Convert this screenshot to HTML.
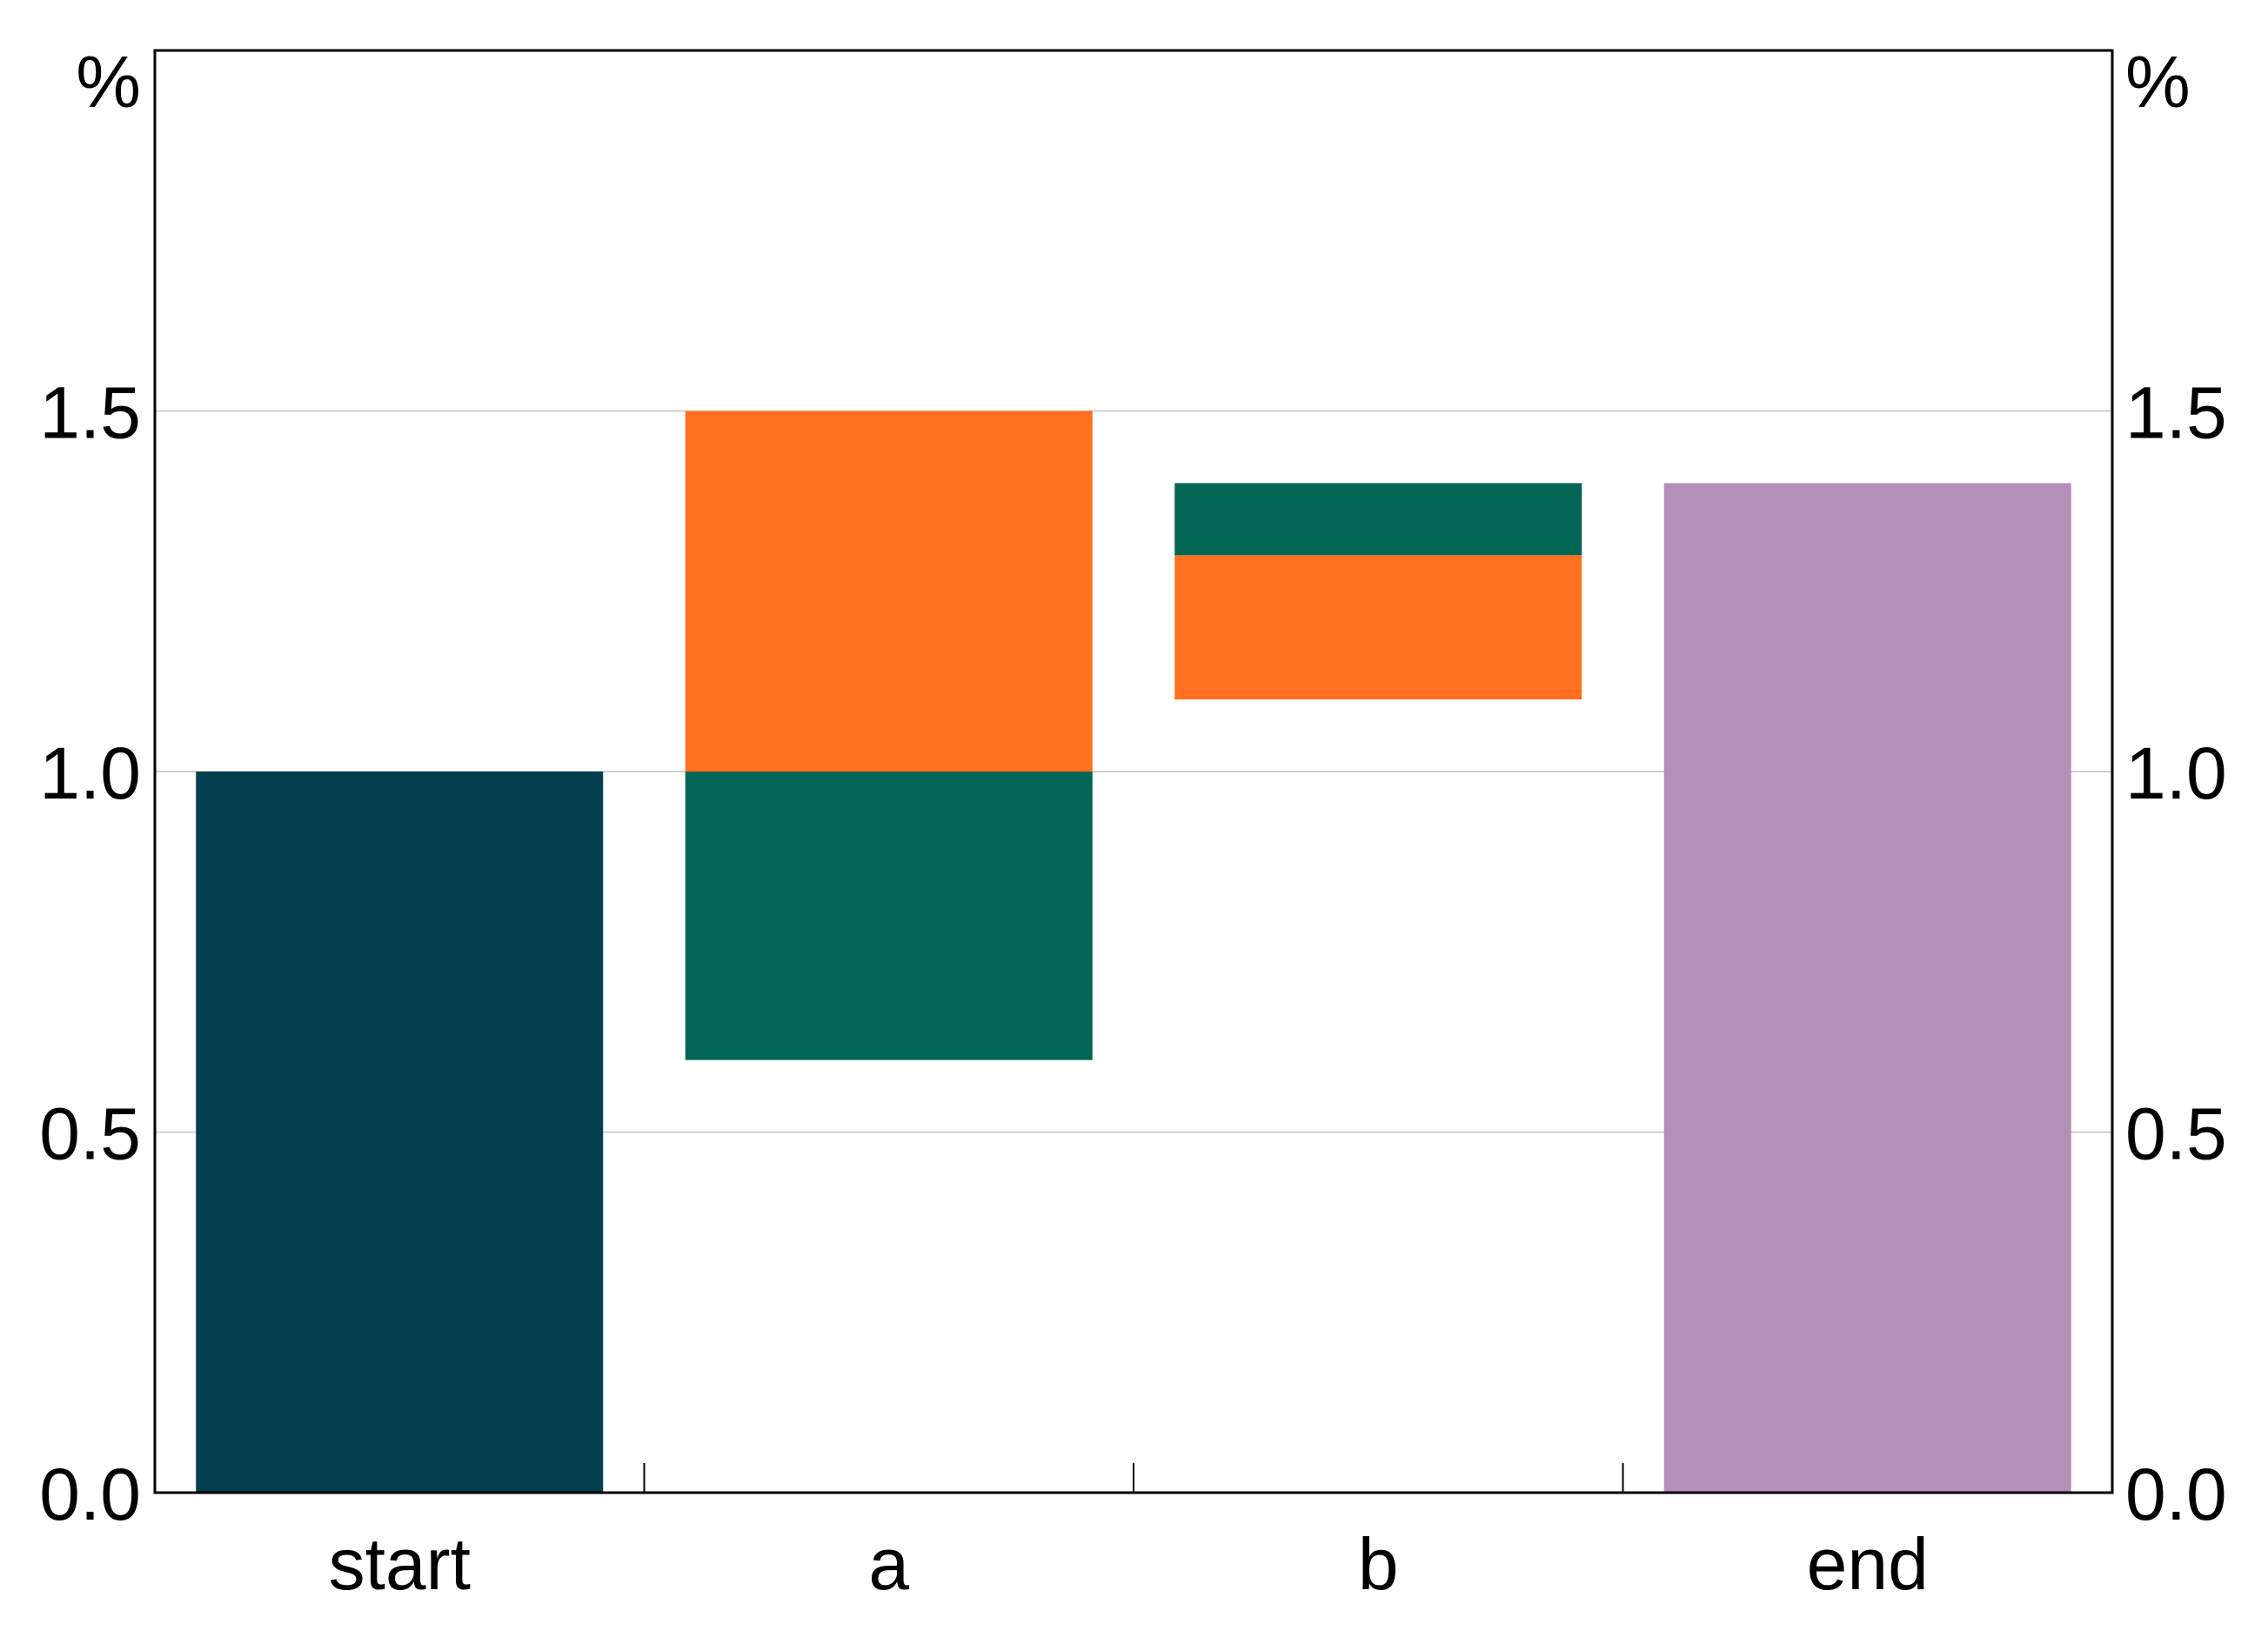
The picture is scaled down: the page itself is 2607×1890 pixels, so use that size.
<!DOCTYPE html>
<html><head><meta charset="utf-8"><style>
html,body{margin:0;padding:0;background:#fff;}
svg{display:block;font-family:"Liberation Sans",sans-serif;}
</style></head><body>
<svg id="chart" width="2607" height="1890" viewBox="0 0 2607 1890"></svg>
<script>
const categories = ["start","a","b","end"];
const segCategory = [0, 1, 1, 2, 2, 3];
const segBottom   = [0, 0.6, 1.0, 1.1, 1.3, 0];
const segTop      = [1.0, 1.0, 1.5, 1.3, 1.4, 1.4];
const segColor    = ["#024050","#036654","#FF7020","#FF7020","#036654","#B48FB9"];
const segNames    = ["bar-start","bar-a-green","bar-a-orange","bar-b-orange","bar-b-green","bar-end"];
const yTicks = [0, 0.5, 1.0, 1.5];
const yTickLabels = ["0.0","0.5","1.0","1.5"];

const NS = "http://www.w3.org/2000/svg";
const svg = document.getElementById('chart');
const L = 178, R = 2428, T = 58, B = 1716;
const yMin = 0, yMax = 2;
const catW = (R - L) / categories.length;
function y(v){ return B - (v - yMin) / (yMax - yMin) * (B - T); }
function xStart(i){ return L + i * catW; }
function mk(tag, attrs){ const e = document.createElementNS(NS, tag); for (const k in attrs) e.setAttribute(k, attrs[k]); svg.appendChild(e); return e; }

yTicks.forEach((v, i) => {
  if (v === 0) return;
  const g = mk('line', {x1: L, x2: R, y1: y(v), y2: y(v), stroke: '#d0d0d0', 'stroke-width': 2});
  
  
});

const barW = catW * 0.832, barOff = (catW - barW) / 2;
segCategory.forEach((c, i) => {
  const r = mk('rect', {x: xStart(c) + barOff, y: y(segTop[i]), width: barW, height: y(segBottom[i]) - y(segTop[i]), fill: segColor[i]});
  
  
});

const f = mk('rect', {x: L, y: T, width: R - L, height: B - T, fill: 'none', stroke: '#000', 'stroke-width': 3});



for (let i = 1; i < categories.length; i++) {
  const t = mk('line', {x1: xStart(i), x2: xStart(i), y1: B, y2: B - 34, stroke: '#000', 'stroke-width': 2});
  
  
}

categories.forEach((c, i) => {
  const t = mk('text', {x: xStart(i) + catW / 2, y: B + 111, 'font-size': 84, 'text-anchor': 'middle', fill: '#000'});
  t.textContent = c;
  
  
});

yTicks.forEach((v, i) => {
  const a = mk('text', {x: 162, y: y(v) + 31, 'font-size': 84, 'text-anchor': 'end', fill: '#000'});
  a.textContent = yTickLabels[i];
  
  
  const b = mk('text', {x: 2443, y: y(v) + 31, 'font-size': 84, 'text-anchor': 'start', fill: '#000'});
  b.textContent = yTickLabels[i];
  
  
});

const ul = mk('text', {x: 162, y: 123, 'font-size': 84, 'text-anchor': 'end', fill: '#000'});
ul.textContent = '%';


const ur = mk('text', {x: 2443, y: 123, 'font-size': 84, 'text-anchor': 'start', fill: '#000'});
ur.textContent = '%';


</script>
</body></html>
